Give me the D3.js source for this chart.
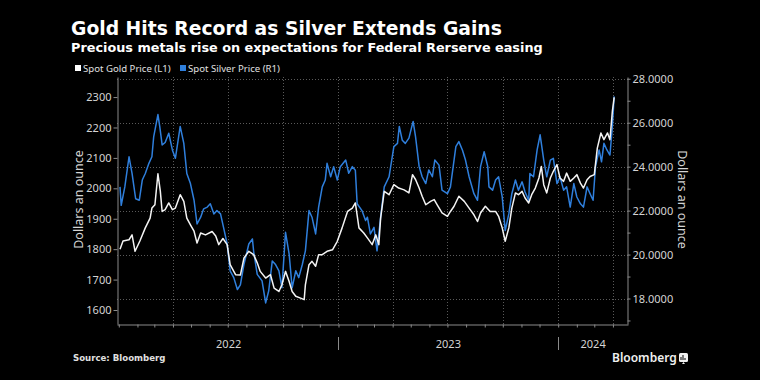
<!DOCTYPE html>
<html>
<head>
<meta charset="utf-8">
<script src="https://cdn.jsdelivr.net/npm/d3@7"></script>
<style>
  body { margin: 0; background: #000; }
  svg { display: block; font-family: 'Noto Sans', 'DejaVu Sans', sans-serif; }
</style>
</head>
<body>
<svg></svg>
<script>
// values
const goldDates = [
  '2022-01-03','2022-01-08','2022-01-18','2022-01-23','2022-01-28','2022-02-05','2022-02-14','2022-02-22',
  '2022-02-25','2022-03-02','2022-03-07','2022-03-11','2022-03-14','2022-03-19','2022-03-25','2022-03-31',
  '2022-04-05','2022-04-13','2022-04-19','2022-04-24','2022-04-30','2022-05-06','2022-05-11','2022-05-17',
  '2022-05-25','2022-06-05','2022-06-11','2022-06-16','2022-06-23','2022-06-30','2022-07-05','2022-07-14',
  '2022-07-22','2022-07-28','2022-08-05','2022-08-13','2022-08-19','2022-08-24','2022-09-02','2022-09-10',
  '2022-09-16','2022-09-24','2022-09-29','2022-10-05','2022-10-11','2022-10-16','2022-10-22','2022-10-30',
  '2022-11-05','2022-11-07','2022-11-13','2022-11-18','2022-11-24','2022-11-29','2022-12-05','2022-12-13',
  '2022-12-22','2022-12-30','2023-01-07','2023-01-16','2023-01-24','2023-01-29','2023-02-04','2023-02-12',
  '2023-02-18','2023-02-26','2023-03-04','2023-03-09','2023-03-12','2023-03-18','2023-03-26','2023-04-03',
  '2023-04-11','2023-04-20','2023-04-28','2023-05-04','2023-05-09','2023-05-15','2023-05-20','2023-05-26',
  '2023-06-03','2023-06-09','2023-06-14','2023-06-22','2023-07-01','2023-07-06','2023-07-12','2023-07-20',
  '2023-07-29','2023-08-06','2023-08-14','2023-08-20','2023-08-25','2023-09-02','2023-09-10','2023-09-19',
  '2023-09-24','2023-09-30','2023-10-05','2023-10-11','2023-10-16','2023-10-22','2023-10-27','2023-11-02',
  '2023-11-07','2023-11-13','2023-11-18','2023-11-24','2023-11-30','2023-12-04','2023-12-08','2023-12-13',
  '2023-12-19','2023-12-24','2023-12-30','2024-01-04','2024-01-10','2024-01-15','2024-01-21','2024-01-27',
  '2024-02-01','2024-02-07','2024-02-12','2024-02-18','2024-02-23','2024-03-01','2024-03-06','2024-03-12',
  '2024-03-17','2024-03-23','2024-03-27','2024-03-31','2024-04-03'
];
const goldPrices = [
  1800,1827,1831,1847,1793,1827,1870,1902,
  1935,1946,2048,1990,1924,1930,1952,1930,
  1935,1979,1957,1902,1880,1859,1820,1853,
  1847,1858,1843,1815,1835,1815,1749,1716,
  1715,1771,1793,1782,1755,1727,1705,1716,
  1672,1661,1683,1727,1694,1661,1645,1639,
  1634,1683,1749,1760,1744,1782,1782,1793,
  1798,1826,1870,1924,1935,1952,1870,1853,
  1837,1815,1847,1815,1902,1990,1979,2012,
  2001,1995,1985,2045,2029,2001,1974,1946,
  1957,1963,1946,1919,1908,1924,1941,1974,
  1957,1935,1913,1891,1919,1941,1924,1924,
  1908,1870,1826,1870,1935,1985,1979,1990,
  1968,1952,1979,2001,2034,2072,2012,1985,
  2034,2056,2078,2034,2023,2050,2023,2034,
  2045,2017,2001,2028,2039,2045,2132,2182,
  2160,2182,2160,2253,2299
];
const silverDates = [
  '2022-01-03','2022-01-05','2022-01-11','2022-01-18','2022-01-23','2022-01-29','2022-02-04','2022-02-09',
  '2022-02-14','2022-02-20','2022-02-25','2022-02-28','2022-03-07','2022-03-10','2022-03-14','2022-03-19',
  '2022-03-25','2022-03-31','2022-04-05','2022-04-13','2022-04-19','2022-04-24','2022-04-30','2022-05-06',
  '2022-05-11','2022-05-17','2022-05-22','2022-05-28','2022-06-02','2022-06-08','2022-06-13','2022-06-19',
  '2022-06-24','2022-06-30','2022-07-05','2022-07-11','2022-07-17','2022-07-22','2022-07-28','2022-08-05',
  '2022-08-11','2022-08-13','2022-08-19','2022-08-27','2022-09-02','2022-09-07','2022-09-13','2022-09-18',
  '2022-09-24','2022-09-29','2022-10-05','2022-10-11','2022-10-16','2022-10-22','2022-10-27','2022-11-02',
  '2022-11-07','2022-11-13','2022-11-18','2022-11-24','2022-11-29','2022-12-05','2022-12-10','2022-12-13',
  '2022-12-19','2022-12-24','2022-12-30','2023-01-04','2023-01-13','2023-01-18','2023-01-24','2023-01-29',
  '2023-02-01','2023-02-09','2023-02-15','2023-02-18','2023-02-23','2023-03-01','2023-03-06','2023-03-12',
  '2023-03-18','2023-03-26','2023-04-03','2023-04-09','2023-04-12','2023-04-17','2023-04-22','2023-04-28',
  '2023-05-05','2023-05-09','2023-05-15','2023-05-20','2023-05-26','2023-05-31','2023-06-06','2023-06-10',
  '2023-06-17','2023-06-22','2023-07-01','2023-07-06','2023-07-15','2023-07-20','2023-07-26','2023-07-31',
  '2023-08-06','2023-08-14','2023-08-20','2023-08-25','2023-08-31','2023-09-06','2023-09-08','2023-09-14',
  '2023-09-19','2023-09-24','2023-09-30','2023-10-05','2023-10-11','2023-10-16','2023-10-22','2023-10-27',
  '2023-11-02','2023-11-07','2023-11-13','2023-11-15','2023-11-21','2023-11-27','2023-12-02','2023-12-08',
  '2023-12-13','2023-12-19','2023-12-24','2023-12-30','2024-01-04','2024-01-10','2024-01-15','2024-01-21',
  '2024-01-27','2024-02-01','2024-02-07','2024-02-12','2024-02-18','2024-02-23','2024-02-28','2024-03-03',
  '2024-03-09','2024-03-13','2024-03-17','2024-03-22','2024-03-27','2024-03-31','2024-04-03'
];
const silverPrices = [
  23.08,22.24,23.08,24.45,23.69,22.54,22.47,23.39,
  23.69,24.15,24.45,25.37,26.37,25.83,24.99,25.10,
  25.52,24.76,24.38,25.83,25.06,23.69,23.23,22.47,
  21.39,21.70,22.08,22.16,22.31,21.85,22.00,21.85,
  21.24,20.48,19.26,18.95,18.41,18.62,19.56,20.48,
  20.71,20.15,19.10,18.80,17.80,18.34,19.71,19.56,
  19.26,18.49,21.01,20.02,18.49,19.26,18.95,19.56,
  20.17,22.00,21.70,20.94,22.16,23.08,23.39,24.15,
  23.54,24.00,23.39,24.00,24.30,23.70,24.00,23.84,
  22.31,22.00,21.55,21.70,20.94,21.24,20.17,21.70,
  23.08,23.54,24.91,25.06,25.83,25.20,25.06,25.30,
  26.06,25.37,24.00,23.54,23.23,23.85,23.54,24.30,
  24.07,22.93,22.77,23.08,24.91,25.14,24.75,24.30,
  23.54,22.77,22.47,24.00,24.68,24.00,23.08,22.93,
  23.39,23.54,22.62,21.09,21.85,22.77,23.39,22.93,
  23.31,22.85,22.47,23.69,23.54,24.76,25.45,24.30,
  23.54,24.30,24.38,23.23,23.54,22.93,23.08,22.16,
  23.23,22.62,22.31,22.16,23.08,22.77,22.47,24.00,
  24.76,24.22,25.06,24.76,24.53,25.83,27.20
];
const goldTicks = [1600, 1700, 1800, 1900, 2000, 2100, 2200, 2300],
      silverTicks = [17, 18, 19, 20, 21, 22, 23, 24, 25, 26, 27, 28],
      silverGrid = [18, 20, 22, 24, 26, 28],
      years = ['2022', '2023', '2024'];

const width = 760,
      height = 380,
      plotLeft = 117,
      plotRight = 628,
      plotTop = 77,
      plotBottom = 324,
      parse = d3.timeParse('%Y-%m-%d'),
      start = parse('2021-12-29'),
      end = parse('2024-04-26'),
      gold = goldDates.map((d, i) => ({date: parse(d), value: goldPrices[i]})),
      silver = silverDates.map((d, i) => ({date: parse(d), value: silverPrices[i]})),
      xScale = d3.scaleTime()
                 .domain([start, end])
                 .range([plotLeft, plotRight]),
      goldScale = d3.scaleLinear()
                    .domain([1554, 2366])
                    .range([plotBottom, plotTop]),
      silverScale = d3.scaleLinear()
                      .domain([16.84, 28.08])
                      .range([plotBottom, plotTop]),
      blue = '#2f7fdc',
      axisColor = '#8a8a8a',
      labelColor = '#d4d4d4';

const svg = d3.select('svg')
    .attr('width', width)
    .attr('height', height);

svg.append('rect')
    .attr('width', width)
    .attr('height', height)
    .attr('fill', '#000');

// gridlines
const grid = svg.append('g')
    .attr('stroke', '#5a5a5a')
    .attr('stroke-width', 1)
    .attr('stroke-dasharray', '1,2');

grid.selectAll('line.h')
  .data(silverGrid)
  .enter()
  .append('line')
    .attr('x1', plotLeft)
    .attr('x2', plotRight)
    .attr('y1', (d) => Math.round(silverScale(d)) + 0.5)
    .attr('y2', (d) => Math.round(silverScale(d)) + 0.5);

grid.selectAll('line.v')
  .data(d3.timeMonth.every(3).range(parse('2022-04-01'), end))
  .enter()
  .append('line')
    .attr('x1', (d) => Math.round(xScale(d)) + 0.5)
    .attr('x2', (d) => Math.round(xScale(d)) + 0.5)
    .attr('y1', plotTop)
    .attr('y2', plotBottom);

// lines
const line = (scale) => d3.line()
    .x((d) => xScale(d.date))
    .y((d) => scale(d.value));

svg.append('path')
    .datum(silver)
    .attr('d', line(silverScale))
    .attr('fill', 'none')
    .attr('stroke', blue)
    .attr('stroke-width', 1.5)
    .attr('stroke-linejoin', 'round');

svg.append('path')
    .datum(gold)
    .attr('d', line(goldScale))
    .attr('fill', 'none')
    .attr('stroke', '#f4f4f4')
    .attr('stroke-width', 1.5)
    .attr('stroke-linejoin', 'round');

// axes
const styleAxis = (g) => {
  g.select('.domain').attr('stroke', axisColor);
  g.selectAll('.tick line').attr('stroke', axisColor);
  g.selectAll('.tick text')
      .attr('fill', labelColor)
      .style('font-size', '11px')
      .style('font-family', "'Noto Sans', sans-serif");
};

svg.append('g')
    .attr('transform', `translate(${plotLeft + 0.5}, 0)`)
    .call(d3.axisLeft(goldScale)
            .tickValues(goldTicks)
            .tickFormat(d3.format('d'))
            .tickSize(4)
            .tickSizeOuter(0)
            .tickPadding(2))
    .call(styleAxis);

svg.append('g')
    .attr('transform', `translate(${plotRight - 0.5}, 0)`)
    .call(d3.axisRight(silverScale)
            .tickValues(silverTicks)
            .tickFormat((d) => d % 2 === 0 ? d3.format('.4f')(d) : '')
            .tickSize(3)
            .tickSizeOuter(0)
            .tickPadding(2))
    .call(styleAxis);

svg.append('g')
    .attr('transform', `translate(0, ${plotBottom + 0.5})`)
    .call(d3.axisBottom(xScale)
            .ticks(d3.timeMonth.every(1))
            .tickFormat('')
            .tickSize(3)
            .tickSizeOuter(0))
    .call(styleAxis);

// year separators and labels
const yearStarts = years.map((y) => parse(`${y}-01-01`));

svg.selectAll('line.year')
  .data(yearStarts.slice(1))
  .enter()
  .append('line')
    .attr('x1', (d) => Math.round(xScale(d)) + 0.5)
    .attr('x2', (d) => Math.round(xScale(d)) + 0.5)
    .attr('y1', 337)
    .attr('y2', 350)
    .attr('stroke', axisColor);

svg.selectAll('text.year')
  .data(years)
  .enter()
  .append('text')
    .text((d) => d)
    .attr('x', (d, i) => {
      const a = xScale(d3.max([yearStarts[i], start])),
            b = xScale(d3.min([d3.timeYear.offset(yearStarts[i], 1), end]));
      return (a + b) / 2;
    })
    .attr('y', 348)
    .attr('fill', labelColor)
    .style('font-size', '11px')
    .style('text-anchor', 'middle');

// axis titles
svg.append('text')
    .text('Dollars an ounce')
    .attr('transform', 'translate(78, 199.5) rotate(-90)')
    .attr('dominant-baseline', 'central')
    .attr('fill', labelColor)
    .style('font-size', '12.5px')
    .style('text-anchor', 'middle');

svg.append('text')
    .text('Dollars an ounce')
    .attr('transform', 'translate(682, 199.5) rotate(90)')
    .attr('dominant-baseline', 'central')
    .attr('fill', labelColor)
    .style('font-size', '12.5px')
    .style('text-anchor', 'middle');

// titles, sized to the reference widths
const fitText = (text, x, y, size, target) => {
  const t = svg.append('text')
      .text(text)
      .attr('x', x)
      .attr('y', y)
      .attr('fill', '#fff')
      .style('font-family', "'DejaVu Sans', sans-serif")
      .style('font-weight', 'bold')
      .style('font-size', size + 'px');
  const w = t.node().getComputedTextLength();
  t.style('font-size', (size * target / w).toFixed(2) + 'px');
};

fitText('Gold Hits Record as Silver Extends Gains', 71, 35, 17, 431);
fitText('Precious metals rise on expectations for Federal Rerserve easing', 71, 52, 12, 472);

// legend
const legend = [
  {label: 'Spot Gold Price (L1)', color: '#fff', x: 75},
  {label: 'Spot Silver Price (R1)', color: blue, x: 180}
];

const items = svg.selectAll('g.legend')
  .data(legend)
  .enter()
  .append('g')
    .attr('transform', (d) => `translate(${d.x}, 65)`);

items.append('rect')
    .attr('width', 6)
    .attr('height', 6)
    .attr('fill', (d) => d.color);

items.append('text')
    .text((d) => d.label)
    .attr('x', 8)
    .attr('y', 6.5)
    .attr('fill', '#e0e0e0')
    .style('font-size', '9.6px');

// footer
svg.append('text')
    .text('Source: Bloomberg')
    .attr('x', 73)
    .attr('y', 361)
    .attr('fill', '#e0e0e0')
    .style('font-family', "'DejaVu Sans', sans-serif")
    .style('font-weight', 'bold')
    .style('font-size', '8.6px');

svg.append('text')
    .text('Bloomberg')
    .attr('x', 612)
    .attr('y', 362)
    .attr('fill', '#f0f0f0')
    .style('font-weight', '600')
    .style('font-size', '12px');

const logo = svg.append('g')
    .attr('transform', 'translate(679, 353)');

logo.append('rect')
    .attr('width', 9)
    .attr('height', 9)
    .attr('rx', 1.5)
    .attr('fill', '#f0f0f0');

logo.append('path')
    .attr('d', 'M3,11 L4.5,9 L6,11 Z')
    .attr('fill', '#f0f0f0');

logo.selectAll('rect.bar')
  .data([[2, 4, 3], [4, 2, 5], [6, 5, 2]])
  .enter()
  .append('rect')
    .attr('x', (d) => d[0] - 0.5)
    .attr('y', (d) => d[1])
    .attr('width', 1)
    .attr('height', (d) => d[2])
    .attr('fill', '#000');
</script>
</body>
</html>
